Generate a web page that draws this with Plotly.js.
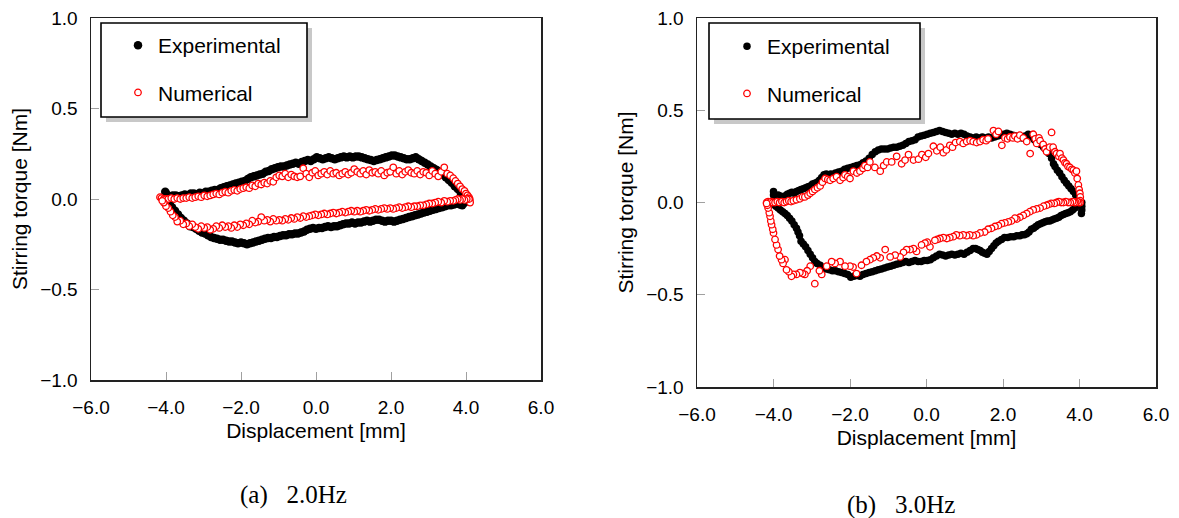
<!DOCTYPE html>
<html>
<head>
<meta charset="utf-8">
<script src="https://cdn.plot.ly/plotly-3.0.1.min.js"></script>
<style>
html,body{margin:0;padding:0;background:#fff;}
#chart{width:1179px;height:518px;}
</style>
</head>
<body>
<div id="chart"></div>
<script>
// ---------- data ----------
// (a) 2.0 Hz - Experimental: upper branch (left->right) then lower branch (right->left)
const exp2x = [
-4.02,-4.00,-3.96,-3.90,-3.82,-3.74,-3.66,-3.58,-3.50,-3.42,
-3.34,-3.26,-3.18,-3.10,-3.02,-2.94,-2.86,-2.78,-2.70,-2.62,
-2.54,-2.46,-2.38,-2.30,-2.22,-2.14,-2.06,-1.98,-1.90,-1.82,
-1.74,-1.66,-1.58,-1.50,-1.42,-1.34,-1.26,-1.18,-1.10,-1.02,
-0.94,-0.86,-0.78,-0.70,-0.62,-0.54,-0.46,-0.38,-0.30,-0.22,
-0.14,-0.06,0.02,0.10,0.18,0.26,0.34,0.42,0.50,0.58,
0.66,0.74,0.82,0.90,0.98,1.06,1.14,1.22,1.30,1.38,
1.46,1.54,1.62,1.70,1.78,1.86,1.94,2.02,2.10,2.18,
2.26,2.34,2.42,2.50,2.58,2.66,2.74,2.82,2.90,2.98,
3.06,3.14,3.22,3.30,3.38,3.46,3.54,3.62,3.70,3.78,
3.86,3.94,4.00,4.04,
4.02,3.96,3.90,3.84,3.76,3.68,3.60,3.52,3.44,3.36,
3.28,3.20,3.12,3.04,2.96,2.88,2.80,2.72,2.64,2.56,
2.48,2.40,2.32,2.24,2.16,2.08,2.00,1.92,1.84,1.76,
1.68,1.60,1.52,1.44,1.36,1.28,1.20,1.12,1.04,0.96,
0.88,0.80,0.72,0.64,0.56,0.48,0.40,0.32,0.24,0.16,
0.08,0.00,-0.08,-0.16,-0.24,-0.32,-0.40,-0.48,-0.56,-0.64,
-0.72,-0.80,-0.88,-0.96,-1.04,-1.12,-1.20,-1.28,-1.36,-1.44,
-1.52,-1.60,-1.68,-1.76,-1.84,-1.92,-2.00,-2.08,-2.16,-2.24,
-2.32,-2.40,-2.48,-2.56,-2.64,-2.72,-2.80,-2.88,-2.96,-3.04,
-3.12,-3.20,-3.28,-3.36,-3.44,-3.52,-3.60,-3.68,-3.76,-3.84,
-3.90,-3.96
];
const exp2y = [
0.04,0.03,0.02,0.015,0.02,0.02,0.015,0.02,0.025,0.02,
0.03,0.03,0.025,0.035,0.03,0.04,0.04,0.045,0.05,0.05,
0.06,0.065,0.07,0.075,0.08,0.085,0.09,0.095,0.10,0.11,
0.12,0.125,0.13,0.135,0.14,0.15,0.155,0.165,0.17,0.175,
0.18,0.18,0.185,0.19,0.195,0.20,0.195,0.205,0.21,0.215,
0.21,0.22,0.23,0.225,0.22,0.225,0.23,0.225,0.22,0.225,
0.23,0.235,0.23,0.235,0.23,0.235,0.235,0.23,0.225,0.22,
0.215,0.21,0.215,0.22,0.225,0.23,0.235,0.24,0.24,0.235,
0.23,0.225,0.22,0.22,0.225,0.23,0.22,0.21,0.20,0.19,
0.18,0.17,0.16,0.15,0.135,0.12,0.105,0.09,0.07,0.055,
0.035,0.02,0.01,0.0,
-0.01,-0.02,-0.035,-0.03,-0.025,-0.03,-0.035,-0.035,-0.04,-0.045,
-0.05,-0.055,-0.06,-0.065,-0.07,-0.075,-0.08,-0.085,-0.09,-0.095,
-0.10,-0.105,-0.11,-0.115,-0.12,-0.125,-0.12,-0.12,-0.125,-0.12,
-0.115,-0.115,-0.12,-0.125,-0.12,-0.125,-0.13,-0.13,-0.135,-0.13,
-0.135,-0.135,-0.14,-0.145,-0.15,-0.15,-0.155,-0.15,-0.155,-0.16,
-0.16,-0.165,-0.16,-0.165,-0.17,-0.18,-0.185,-0.19,-0.19,-0.195,
-0.195,-0.20,-0.20,-0.205,-0.21,-0.21,-0.215,-0.215,-0.22,-0.225,
-0.23,-0.235,-0.24,-0.245,-0.25,-0.245,-0.24,-0.245,-0.24,-0.235,
-0.235,-0.23,-0.225,-0.225,-0.22,-0.215,-0.21,-0.20,-0.19,-0.185,
-0.175,-0.165,-0.155,-0.15,-0.135,-0.12,-0.105,-0.085,-0.065,-0.045,
-0.025,-0.01
];
// (a) 2.0 Hz - Numerical
const num2x = [
-4.16,-4.12,-4.06,-4.00,-3.94,-3.86,-3.78,-3.70,-3.62,-3.54,
-3.46,-3.38,-3.30,-3.22,-3.14,-3.06,-2.98,-2.90,-2.82,-2.74,
-2.66,-2.58,-2.50,-2.42,-2.34,-2.26,-2.18,-2.10,-2.02,-1.94,
-1.86,-1.78,-1.70,-1.62,-1.54,-1.46,-1.38,-1.30,-1.22,-1.14,
-1.06,-0.98,-0.90,-0.82,-0.74,-0.66,-0.58,-0.50,-0.42,-0.34,
-0.26,-0.18,-0.10,-0.02,0.06,0.14,0.22,0.30,0.38,0.46,
0.54,0.62,0.70,0.78,0.86,0.94,1.02,1.10,1.18,1.26,
1.34,1.42,1.50,1.58,1.66,1.74,1.82,1.90,1.98,2.06,
2.14,2.22,2.30,2.38,2.46,2.54,2.62,2.70,2.78,2.86,
2.94,3.02,3.10,3.18,3.26,3.34,3.42,3.50,3.58,3.66,
3.72,3.78,3.84,3.90,3.96,4.00,4.04,4.08,4.10,4.10,
4.11,
4.08,4.02,3.96,3.90,3.84,3.78,3.72,3.66,3.58,3.50,
3.42,3.34,3.26,3.18,3.10,3.02,2.94,2.86,2.78,2.70,
2.62,2.54,2.46,2.38,2.30,2.22,2.14,2.06,1.98,1.90,
1.82,1.74,1.66,1.58,1.50,1.42,1.34,1.26,1.18,1.10,
1.02,0.94,0.86,0.78,0.70,0.62,0.54,0.46,0.38,0.30,
0.22,0.14,0.06,-0.02,-0.10,-0.18,-0.26,-0.34,-0.42,-0.50,
-0.58,-0.66,-0.74,-0.82,-0.90,-0.98,-1.06,-1.14,-1.22,-1.30,
-1.38,-1.46,-1.54,-1.62,-1.70,-1.78,-1.86,-1.94,-2.02,-2.10,
-2.18,-2.26,-2.34,-2.42,-2.50,-2.58,-2.66,-2.74,-2.82,-2.90,
-2.98,-3.06,-3.14,-3.22,-3.30,-3.38,-3.46,-3.54,-3.62,-3.70,
-3.76,-3.82,-3.88,-3.94,-4.00,-4.06,-4.10
];
const num2y = [
0.01,0.005,0.0,0.0,0.0,0.005,0.0,0.005,0.0,0.005,
0.005,0.01,0.005,0.01,0.015,0.01,0.02,0.015,0.02,0.025,
0.03,0.025,0.035,0.04,0.035,0.045,0.05,0.045,0.055,0.06,
0.065,0.06,0.075,0.07,0.085,0.08,0.09,0.085,0.10,0.095,
0.12,0.13,0.125,0.14,0.12,0.135,0.125,0.12,0.125,0.17,
0.14,0.12,0.145,0.155,0.13,0.14,0.15,0.135,0.155,0.14,
0.145,0.13,0.14,0.15,0.135,0.145,0.165,0.15,0.14,0.155,
0.135,0.16,0.145,0.15,0.14,0.155,0.13,0.145,0.15,0.175,
0.14,0.155,0.135,0.15,0.16,0.145,0.14,0.155,0.135,0.15,
0.145,0.13,0.155,0.14,0.125,0.15,0.175,0.14,0.13,0.115,
0.10,0.085,0.07,0.055,0.045,0.03,0.02,0.01,0.0,-0.01,
-0.02,
0.0,0.0,-0.005,0.0,-0.005,0.0,-0.005,-0.01,-0.01,-0.015,
-0.01,-0.02,-0.015,-0.02,-0.025,-0.025,-0.03,-0.035,-0.035,-0.04,
-0.04,-0.045,-0.04,-0.045,-0.05,-0.045,-0.05,-0.055,-0.05,-0.055,
-0.05,-0.055,-0.06,-0.055,-0.06,-0.065,-0.06,-0.065,-0.07,-0.065,
-0.07,-0.065,-0.07,-0.075,-0.07,-0.075,-0.08,-0.075,-0.08,-0.085,
-0.08,-0.085,-0.09,-0.085,-0.09,-0.095,-0.10,-0.095,-0.105,-0.10,
-0.11,-0.105,-0.115,-0.11,-0.12,-0.115,-0.12,-0.11,-0.125,-0.115,
-0.12,-0.10,-0.125,-0.13,-0.12,-0.14,-0.135,-0.145,-0.14,-0.155,
-0.145,-0.16,-0.15,-0.155,-0.145,-0.16,-0.15,-0.165,-0.17,-0.155,
-0.16,-0.15,-0.165,-0.155,-0.14,-0.15,-0.135,-0.14,-0.12,-0.125,
-0.10,-0.09,-0.07,-0.05,-0.04,-0.02,-0.01
];
// (b) 3.0 Hz - Experimental
const exp3x = [
-4.00,-4.00,-3.98,-3.96,-3.94,-3.88,-3.82,-3.76,-3.70,-3.64,
-3.58,-3.52,-3.46,-3.40,-3.34,-3.28,-3.22,-3.16,-3.10,-3.04,
-2.98,-2.92,-2.86,-2.80,-2.74,-2.68,-2.62,-2.56,-2.50,-2.44,
-2.38,-2.30,-2.22,-2.14,-2.06,-1.98,-1.90,-1.82,-1.74,-1.66,
-1.58,-1.50,-1.42,-1.34,-1.26,-1.18,-1.10,-1.02,-0.94,-0.86,
-0.78,-0.70,-0.62,-0.54,-0.46,-0.38,-0.30,-0.22,-0.14,-0.06,
0.02,0.10,0.18,0.26,0.34,0.42,0.50,0.58,0.66,0.74,
0.82,0.90,0.98,1.06,1.14,1.22,1.30,1.38,1.46,1.54,
1.62,1.70,1.78,1.86,1.94,2.02,2.10,2.18,2.26,2.34,
2.42,2.50,2.58,2.66,2.74,2.82,2.90,2.98,3.06,3.14,
3.20,3.27,3.32,3.36,3.42,3.48,3.54,3.60,3.66,3.72,
3.78,3.84,3.90,3.96,4.02,4.06,4.06,4.06,4.05,
4.00,3.94,3.88,3.82,3.76,3.70,3.64,3.58,3.52,3.46,
3.40,3.34,3.28,3.22,3.16,3.10,3.04,2.98,2.92,2.86,
2.80,2.74,2.68,2.62,2.56,2.50,2.44,2.36,2.28,2.20,
2.12,2.04,1.96,1.88,1.82,1.76,1.70,1.64,1.58,1.52,
1.46,1.40,1.34,1.28,1.22,1.14,1.06,0.98,0.90,0.82,
0.74,0.66,0.58,0.50,0.42,0.34,0.26,0.18,0.10,0.02,
-0.06,-0.14,-0.22,-0.30,-0.38,-0.46,-0.54,-0.62,-0.70,-0.78,
-0.86,-0.94,-1.02,-1.10,-1.18,-1.26,-1.34,-1.42,-1.50,-1.58,
-1.66,-1.74,-1.82,-1.90,-1.98,-2.06,-2.14,-2.22,-2.30,-2.38,
-2.46,-2.54,-2.62,-2.70,-2.78,-2.86,-2.92,-2.98,-3.04,-3.10,
-3.16,-3.22,-3.28,-3.32,-3.36,-3.40,-3.46,-3.52,-3.58,-3.64,
-3.70,-3.76,-3.82,-3.88,-3.94,-3.98
];
const exp3y = [
0.06,0.04,0.02,0.0,0.03,0.04,0.035,0.03,0.035,0.045,
0.05,0.055,0.05,0.06,0.065,0.07,0.075,0.08,0.085,0.09,
0.10,0.105,0.11,0.12,0.135,0.15,0.155,0.15,0.155,0.15,
0.16,0.165,0.17,0.18,0.185,0.19,0.195,0.20,0.205,0.215,
0.225,0.24,0.26,0.275,0.285,0.29,0.29,0.29,0.295,0.30,
0.30,0.305,0.31,0.32,0.33,0.335,0.34,0.355,0.36,0.365,
0.37,0.375,0.38,0.385,0.39,0.385,0.38,0.375,0.37,0.375,
0.37,0.375,0.37,0.36,0.355,0.35,0.355,0.35,0.355,0.35,
0.355,0.35,0.355,0.36,0.365,0.37,0.375,0.37,0.365,0.36,
0.355,0.35,0.36,0.37,0.355,0.34,0.33,0.315,0.30,0.28,
0.265,0.24,0.21,0.195,0.175,0.16,0.14,0.12,0.105,0.09,
0.075,0.06,0.04,0.025,0.01,0.0,-0.02,-0.04,-0.06,
-0.005,-0.015,-0.03,-0.04,-0.05,-0.055,-0.06,-0.065,-0.07,-0.08,
-0.085,-0.09,-0.095,-0.10,-0.10,-0.105,-0.11,-0.115,-0.12,-0.13,
-0.14,-0.145,-0.16,-0.17,-0.175,-0.175,-0.18,-0.18,-0.185,-0.185,
-0.19,-0.19,-0.20,-0.21,-0.22,-0.235,-0.25,-0.265,-0.28,-0.275,
-0.27,-0.26,-0.255,-0.25,-0.25,-0.26,-0.27,-0.28,-0.275,-0.28,
-0.285,-0.28,-0.285,-0.29,-0.285,-0.28,-0.29,-0.30,-0.31,-0.315,
-0.315,-0.32,-0.32,-0.315,-0.32,-0.325,-0.32,-0.325,-0.33,-0.335,
-0.34,-0.345,-0.35,-0.355,-0.36,-0.365,-0.37,-0.375,-0.38,-0.385,
-0.39,-0.40,-0.395,-0.40,-0.405,-0.39,-0.385,-0.38,-0.375,-0.37,
-0.37,-0.365,-0.36,-0.355,-0.34,-0.33,-0.32,-0.30,-0.28,-0.26,
-0.24,-0.225,-0.21,-0.18,-0.16,-0.14,-0.12,-0.10,-0.085,-0.07,
-0.06,-0.05,-0.04,-0.03,-0.02,-0.01
];
// (b) 3.0 Hz - Numerical
const num3x = [
-4.18,-4.14,-4.10,-4.06,-4.02,-3.96,-3.90,-3.84,-3.78,-3.72,
-3.66,-3.60,-3.54,-3.48,-3.40,-3.31,-3.24,-3.18,-3.10,-3.04,
-2.98,-2.92,-2.85,-2.78,-2.72,-2.65,-2.58,-2.52,-2.44,-2.35,
-2.26,-2.18,-2.13,-2.06,-2.00,-1.91,-1.82,-1.74,-1.66,-1.61,
-1.54,-1.48,-1.35,-1.21,-1.12,-1.04,-0.91,-0.78,-0.65,-0.56,
-0.47,-0.34,-0.21,-0.12,-0.02,0.05,0.18,0.27,0.36,0.44,
0.52,0.61,0.68,0.76,0.87,0.96,1.05,1.14,1.22,1.31,
1.40,1.48,1.56,1.61,1.75,1.82,1.88,1.97,2.05,2.12,
2.18,2.26,2.31,2.38,2.44,2.53,2.62,2.71,2.79,2.84,
2.88,2.94,2.97,3.05,3.10,3.14,3.22,3.27,3.31,3.36,
3.40,3.46,3.49,3.54,3.58,3.62,3.66,3.70,3.75,3.80,
3.84,3.88,3.92,3.94,3.97,3.99,4.01,4.02,4.02,
4.02,3.98,3.94,3.90,3.86,3.82,3.76,3.70,3.64,3.58,
3.52,3.46,3.40,3.34,3.26,3.20,3.14,3.06,2.97,2.88,
2.79,2.70,2.62,2.53,2.44,2.36,2.31,2.22,2.14,2.05,
1.96,1.88,1.79,1.70,1.61,1.52,1.40,1.31,1.22,1.13,
1.05,0.96,0.87,0.78,0.70,0.61,0.53,0.44,0.35,0.28,
0.22,0.09,0.02,-0.04,-0.13,-0.26,-0.34,-0.43,-0.52,-0.60,
-0.69,-0.82,-0.95,-1.08,-1.21,-1.30,-1.39,-1.48,-1.57,-1.70,
-1.83,-1.92,-2.00,-2.13,-2.26,-2.39,-2.48,-2.61,-2.74,-2.80,
-2.92,-3.04,-3.12,-3.18,-3.24,-3.31,-3.40,-3.48,-3.53,-3.60,
-3.66,-3.70,-3.75,-3.79,-3.84,-3.88,-3.92,-3.96,-4.00,-4.02,
-4.05,-4.07,-4.09,-4.11,-4.14,-4.16,-4.18
];
const num3y = [
0.0,0.005,0.0,0.005,0.0,0.0,0.005,0.0,0.005,0.0,
0.005,0.01,0.005,0.01,0.015,0.02,0.03,0.03,0.04,0.05,
0.06,0.07,0.08,0.09,0.11,0.13,0.125,0.12,0.13,0.14,
0.12,0.135,0.15,0.14,0.13,0.17,0.16,0.17,0.185,0.20,
0.19,0.22,0.19,0.17,0.20,0.22,0.22,0.25,0.21,0.23,
0.26,0.23,0.235,0.26,0.245,0.265,0.305,0.28,0.30,0.27,
0.285,0.31,0.30,0.325,0.33,0.32,0.33,0.335,0.33,0.325,
0.33,0.34,0.335,0.345,0.39,0.37,0.385,0.31,0.35,0.345,
0.355,0.35,0.36,0.345,0.365,0.35,0.33,0.265,0.37,0.345,
0.32,0.35,0.335,0.315,0.29,0.275,0.30,0.38,0.30,0.275,
0.265,0.25,0.265,0.24,0.23,0.215,0.21,0.195,0.19,0.18,
0.175,0.16,0.17,0.13,0.095,0.07,0.05,0.03,0.01,
0.0,0.0,0.005,0.0,0.0,0.005,0.0,0.0,0.005,0.0,
0.0,0.005,0.0,-0.005,-0.005,-0.01,-0.015,-0.02,-0.03,-0.035,
-0.04,-0.05,-0.06,-0.07,-0.08,-0.09,-0.085,-0.10,-0.105,-0.11,
-0.115,-0.125,-0.13,-0.14,-0.145,-0.16,-0.165,-0.175,-0.18,-0.175,
-0.18,-0.175,-0.18,-0.175,-0.185,-0.19,-0.195,-0.19,-0.195,-0.20,
-0.205,-0.24,-0.215,-0.22,-0.23,-0.265,-0.25,-0.255,-0.255,-0.27,
-0.295,-0.285,-0.295,-0.255,-0.30,-0.29,-0.30,-0.31,-0.32,-0.34,
-0.385,-0.35,-0.345,-0.345,-0.32,-0.33,-0.32,-0.345,-0.39,-0.37,
-0.44,-0.345,-0.37,-0.39,-0.385,-0.38,-0.39,-0.39,-0.40,-0.375,
-0.365,-0.31,-0.33,-0.31,-0.29,-0.255,-0.23,-0.20,-0.165,-0.145,
-0.12,-0.10,-0.075,-0.055,-0.03,-0.015,-0.005
];
const seriesNames = ["Experimental", "Numerical"];
const panelCaptions = ["(a)\u00A0\u00A0\u00A02.0Hz", "(b)\u00A0\u00A0\u00A03.0Hz"];
const xTitle = "Displacement [mm]";
const yTitle = "Stirring torque [Nm]";
const xRange = [-6, 6];
const yRange = [-1, 1];

// ---------- drawing ----------
const W = 1179, H = 518;
const px = v => v / W;
const py = v => 1 - v / H;
const FONT = "Liberation Sans, Arial, sans-serif";
const SERIF = "Liberation Serif, Times New Roman, serif";

const expMarkerA = {symbol: "circle", size: 8.5, color: "#000000", line: {width: 0}};
const expMarkerB = {symbol: "circle", size: 7.5, color: "#000000", line: {width: 0}};
const numMarker = {symbol: "circle", size: 6.5, color: "#ffffff", line: {color: "#ff0000", width: 1.3}};

const traces = [
  {x: exp2x, y: exp2y, xaxis: "x", yaxis: "y", type: "scatter", mode: "markers", name: seriesNames[0],
   marker: expMarkerA, legend: "legend", legendgroup: "e2", hoverinfo: "x+y"},
  {x: num2x, y: num2y, xaxis: "x", yaxis: "y", type: "scatter", mode: "markers", name: seriesNames[1],
   marker: numMarker, legend: "legend", legendgroup: "n2", hoverinfo: "x+y"},
  {x: exp3x, y: exp3y, xaxis: "x2", yaxis: "y2", type: "scatter", mode: "markers", name: seriesNames[0],
   marker: expMarkerB, legend: "legend2", legendgroup: "e3", hoverinfo: "x+y"},
  {x: num3x, y: num3y, xaxis: "x2", yaxis: "y2", type: "scatter", mode: "markers", name: seriesNames[1],
   marker: numMarker, legend: "legend2", legendgroup: "n3", hoverinfo: "x+y"}
];

function xAxis(d0, d1, anchor) {
  return {
    domain: [px(d0), px(d1)], anchor: anchor, range: xRange, tick0: -6, dtick: 2, tickformat: ".1f",
    ticks: "inside", ticklen: 8, tickwidth: 1, tickcolor: "#a0a0a0",
    showline: true, linecolor: "#222", linewidth: 1.5, mirror: true,
    showgrid: false, zeroline: false, automargin: false, ticklabelstandoff: 10,
    tickfont: {family: FONT, size: 19, color: "#000"},
    title: {text: xTitle, font: {family: FONT, size: 21, color: "#000"}, standoff: 6}
  };
}
function yAxis(d0, d1, anchor) {
  return {
    domain: [py(d1), py(d0)], anchor: anchor, range: yRange, tick0: -1, dtick: 0.5, tickformat: ".1f",
    ticks: "inside", ticklen: 8, tickwidth: 1, tickcolor: "#a0a0a0",
    showline: true, linecolor: "#222", linewidth: 1.5, mirror: true,
    showgrid: false, zeroline: false, automargin: false, ticklabelstandoff: 8,
    tickfont: {family: FONT, size: 19, color: "#000"},
    title: {text: yTitle, font: {family: FONT, size: 21, color: "#000"}, standoff: 7}
  };
}
function legendAt(left, top) {
  return {
    x: px(left), y: py(top), xanchor: "left", yanchor: "top",
    bgcolor: "rgba(0,0,0,0)", borderwidth: 0, traceorder: "grouped", tracegroupgap: 17,
    font: {family: FONT, size: 21, color: "#000"}, itemclick: false, itemdoubleclick: false
  };
}
function legendBox(x0, y0, x1, y1) {
  return [
    {type: "rect", xref: "paper", yref: "paper", layer: "above",
     x0: px(x0 + 5), x1: px(x1 + 5), y0: py(y1 + 5), y1: py(y0 + 5),
     fillcolor: "#c8c8c8", line: {width: 0}},
    {type: "rect", xref: "paper", yref: "paper", layer: "above",
     x0: px(x0), x1: px(x1), y0: py(y1), y1: py(y0),
     fillcolor: "#ffffff", line: {color: "#000", width: 1.6}}
  ];
}

const layout = {
  width: W, height: H, margin: {l: 0, r: 0, t: 0, b: 0},
  paper_bgcolor: "#ffffff", plot_bgcolor: "#ffffff", showlegend: true,
  xaxis: xAxis(91, 541, "y"),
  yaxis: yAxis(18, 380, "x"),
  xaxis2: xAxis(697, 1156, "y2"),
  yaxis2: yAxis(18, 387, "x2"),
  legend: legendAt(118, 25),
  legend2: legendAt(727, 26),
  shapes: [].concat(legendBox(101, 23, 307, 117), legendBox(709, 23, 920, 119)),
  annotations: [
    {text: panelCaptions[0], xref: "paper", yref: "paper", x: px(293), y: py(495),
     xanchor: "center", yanchor: "middle", showarrow: false,
     font: {family: SERIF, size: 25, color: "#000"}},
    {text: panelCaptions[1], xref: "paper", yref: "paper", x: px(901), y: py(505),
     xanchor: "center", yanchor: "middle", showarrow: false,
     font: {family: SERIF, size: 25, color: "#000"}}
  ]
};

Plotly.newPlot("chart", traces, layout, {staticPlot: true, displayModeBar: false});
</script>
</body>
</html>
